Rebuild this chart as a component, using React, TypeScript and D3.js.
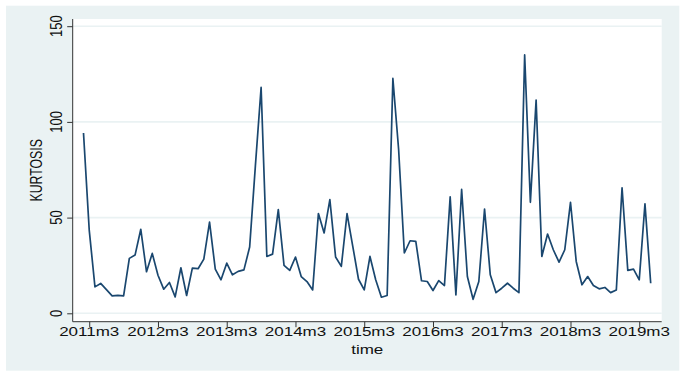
import React, { useRef, useEffect } from 'react';
import * as d3 from 'd3';

// monthly series, first observation is 2011m2 (index -1 relative to 2011m3)
const startIndex = -1;
const kurtosis = [
  94.2, 43.5, 13.8, 15.6, 12.4, 9.1, 9.4, 9.1, 28.7, 30.4, 43.9, 21.7,
  31.3, 19.9, 12.6, 16.1, 8.6, 23.8, 9.3, 23.6, 23.3, 28.3, 47.6, 23.1,
  17.5, 26.2, 20.1, 21.9, 22.7, 34.6, 77, 118, 29.7, 30.9, 54.2, 25,
  22.4, 29.4, 19.2, 16.6, 12.2, 52.1, 42, 59.4, 29.4, 24.5, 52.1, 35,
  17.8, 12.2, 29.7, 17.5, 8.4, 9.3, 122.7, 85.7, 31.5, 37.9, 37.6, 17,
  16.6, 11.9, 17.1, 14.5, 60.8, 9.6, 64.7, 19.2, 7.3, 16.6, 54.5, 20.1,
  10.8, 13.1, 15.7, 13.1, 10.8, 135, 58, 111.4, 29.7, 41.4, 33.2, 26.7,
  33.2, 58, 27.1, 14.9, 19.2, 14.5, 12.8, 13.5, 10.8, 12.2, 65.6, 22.4,
  23.1, 17.5, 57.2, 15.7,
];
const xTickIndex = [0, 12, 24, 36, 48, 60, 72, 84, 96];
const xTickLabels = ['2011m3', '2012m3', '2013m3', '2014m3', '2015m3', '2016m3', '2017m3', '2018m3', '2019m3'];
const yTicks = [0, 50, 100, 150];

const W = 685;
const H = 376;
const FONT = '"Liberation Sans", Arial, sans-serif';

const KurtosisChart = () => {
  const svgRef = useRef<SVGSVGElement | null>(null);

  useEffect(() => {
    if (!svgRef.current) return;
    const svg = d3.select(svgRef.current);
    svg.selectAll('*').remove();

    const plot = { left: 72.7, right: 661.7, top: 19, bottom: 321.7 };

    const data = kurtosis.map((v, i) => ({ t: startIndex + i, v }));

    const x = d3.scaleLinear()
      .domain([startIndex, startIndex + kurtosis.length - 1])
      .range([83.5, 650.7]);
    const y = d3.scaleLinear().domain([0, 150]).range([313.3, 26.2]);

    // outer graph region
    svg.append('rect')
      .attr('x', 6).attr('y', 5.7)
      .attr('width', 673.3).attr('height', 365)
      .attr('fill', '#eaf2f3');

    // plot region
    svg.append('rect')
      .attr('x', plot.left).attr('y', plot.top)
      .attr('width', plot.right - plot.left).attr('height', plot.bottom - plot.top)
      .attr('fill', '#ffffff');

    // grid lines
    svg.append('g')
      .selectAll('line')
      .data(yTicks)
      .join('line')
      .attr('x1', plot.left).attr('x2', plot.right)
      .attr('y1', d => y(d)).attr('y2', d => y(d))
      .attr('stroke', '#eaf2f3')
      .attr('stroke-width', 1.6);

    // y axis (ticks only, labels drawn below)
    const yAxis = svg.append('g')
      .attr('transform', `translate(${plot.left},0)`)
      .call(d3.axisLeft(y).tickValues(yTicks).tickSize(5.5).tickFormat(() => ''));
    yAxis.select('.domain').attr('d', `M0,${plot.top}V${plot.bottom}`).attr('stroke', '#333');
    yAxis.selectAll('.tick line').attr('stroke', '#333');

    svg.append('g')
      .selectAll('text')
      .data(yTicks)
      .join('text')
      .attr('transform', d => `translate(61.5,${y(d)}) scale(1.25,1) rotate(-90)`)
      .attr('text-anchor', 'middle')
      .attr('font-family', FONT)
      .attr('font-size', 13)
      .attr('fill', '#111')
      .text(d => d3.format('d')(d));

    // x axis
    const xAxis = svg.append('g')
      .attr('transform', `translate(0,${plot.bottom})`)
      .call(d3.axisBottom(x).tickValues(xTickIndex).tickSize(5.5).tickFormat(() => ''));
    xAxis.select('.domain').attr('d', `M${plot.left},0H${plot.right}`).attr('stroke', '#333');
    xAxis.selectAll('.tick line').attr('stroke', '#333');

    svg.append('g')
      .selectAll('text')
      .data(xTickIndex)
      .join('text')
      .attr('transform', d => `translate(${x(d)},336) scale(1.36,1)`)
      .attr('text-anchor', 'middle')
      .attr('font-family', FONT)
      .attr('font-size', 12.5)
      .attr('fill', '#111')
      .text((_, i) => xTickLabels[i]);

    // axis titles
    svg.append('text')
      .attr('transform', `translate(41.5,${(plot.top + plot.bottom) / 2}) scale(1.3,1) rotate(-90)`)
      .attr('text-anchor', 'middle')
      .attr('font-family', FONT)
      .attr('font-size', 12.3)
      .attr('fill', '#111')
      .text('KURTOSIS');

    svg.append('text')
      .attr('transform', `translate(${(plot.left + plot.right) / 2},354) scale(1.36,1)`)
      .attr('text-anchor', 'middle')
      .attr('font-family', FONT)
      .attr('font-size', 12.5)
      .attr('fill', '#111')
      .text('time');

    // series
    const line = d3.line<{ t: number; v: number }>()
      .x(d => x(d.t))
      .y(d => y(d.v));

    svg.append('path')
      .datum(data)
      .attr('fill', 'none')
      .attr('stroke', '#1a476f')
      .attr('stroke-width', 1.7)
      .attr('stroke-linejoin', 'round')
      .attr('d', line);
  }, []);

  return (
    <svg
      ref={svgRef}
      width={W}
      height={H}
      style={{ position: 'absolute', left: 0, top: 0, background: '#fff' }}
    />
  );
};

export default function App() {
  return <KurtosisChart />;
}
